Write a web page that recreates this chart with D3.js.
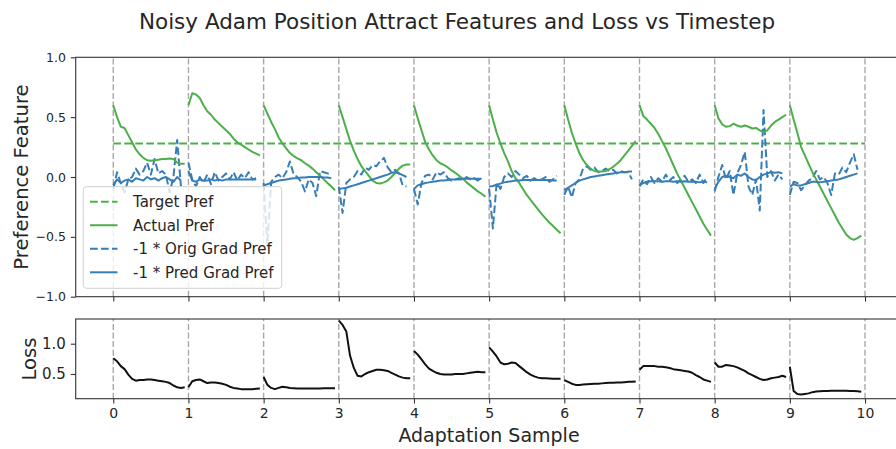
<!DOCTYPE html>
<html>
<head>
<meta charset="utf-8">
<script src="https://cdn.jsdelivr.net/npm/d3@7"></script>
<style>
  body { margin: 0; background: #fff; }
  text { font-family: "DejaVu Sans", sans-serif; fill: #262626; }
</style>
</head>
<body>
<svg id="chart" width="896" height="449"></svg>
<script>
// ---- data -------------------------------------------------------------
// Ten adaptation samples, each sampled at 20 sub-steps (x = sample + k/20).
const sampleStarts = [0, 1, 2, 3, 4, 5, 6, 7, 8, 9];
const stepsPerSample = 20;
const targetPref = 0.28;
const xTickValues = [0, 1, 2, 3, 4, 5, 6, 7, 8, 9, 10];
const prefTickValues = [-1.0, -0.5, 0.0, 0.5, 1.0];
const lossTickValues = [0.5, 1.0];

// Actual preference feature per sample (20 steps each)
const actualPref = [
  [0.60, 0.50, 0.42, 0.41, 0.35, 0.29, 0.23, 0.19, 0.16, 0.14, 0.135, 0.14, 0.145, 0.15, 0.15, 0.155, 0.15, 0.12, 0.11, 0.11],
  [0.60, 0.70, 0.69, 0.66, 0.60, 0.55, 0.52, 0.48, 0.45, 0.42, 0.39, 0.36, 0.32, 0.29, 0.27, 0.25, 0.23, 0.21, 0.195, 0.18],
  [0.60, 0.53, 0.46, 0.40, 0.33, 0.28, 0.24, 0.20, 0.175, 0.155, 0.14, 0.115, 0.095, 0.07, 0.04, 0.01, -0.02, -0.05, -0.08, -0.11],
  [0.60, 0.50, 0.40, 0.30, 0.22, 0.15, 0.09, 0.05, 0.01, -0.03, -0.05, -0.055, -0.045, -0.03, 0.0, 0.035, 0.07, 0.095, 0.105, 0.105],
  [0.60, 0.49, 0.39, 0.29, 0.23, 0.18, 0.14, 0.115, 0.10, 0.08, 0.055, 0.035, 0.01, -0.015, -0.045, -0.07, -0.095, -0.12, -0.14, -0.165],
  [0.60, 0.48, 0.37, 0.28, 0.20, 0.13, 0.05, -0.01, -0.05, -0.10, -0.15, -0.19, -0.23, -0.27, -0.31, -0.345, -0.38, -0.41, -0.44, -0.47],
  [0.60, 0.48, 0.37, 0.28, 0.20, 0.14, 0.10, 0.07, 0.05, 0.045, 0.045, 0.05, 0.065, 0.085, 0.11, 0.14, 0.18, 0.22, 0.26, 0.30],
  [0.60, 0.51, 0.48, 0.445, 0.41, 0.36, 0.30, 0.24, 0.17, 0.10, 0.03, -0.03, -0.09, -0.15, -0.21, -0.27, -0.33, -0.39, -0.44, -0.49],
  [0.60, 0.49, 0.44, 0.42, 0.425, 0.445, 0.43, 0.42, 0.43, 0.42, 0.405, 0.41, 0.39, 0.375, 0.39, 0.43, 0.46, 0.48, 0.50, 0.52],
  [0.60, 0.48, 0.37, 0.25, 0.18, 0.11, 0.04, -0.02, -0.08, -0.14, -0.20, -0.26, -0.32, -0.38, -0.43, -0.48, -0.51, -0.525, -0.51, -0.49]
];

// -1 * original gradient of the preference feature (19 steps each)
const origGradPref = [
  [-0.10, 0.04, -0.05, -0.13, -0.02, 0.0, 0.07, 0.02, 0.05, 0.12, 0.02, 0.15, 0.03, 0.05, 0.02, -0.13, 0.0, 0.31, -0.08],
  [0.12, -0.02, -0.08, 0.0, -0.05, 0.02, -0.06, 0.04, -0.03, 0.0, 0.03, -0.02, 0.04, -0.03, 0.02, -0.01, 0.04, -0.02, -0.01],
  [-0.05, -0.57, -0.04, 0.0, 0.02, -0.01, 0.04, 0.13, 0.02, 0.0, -0.04, -0.12, -0.02, -0.05, -0.16, 0.05, 0.04, 0.03, 0.02],
  [-0.08, -0.30, -0.05, -0.02, 0.0, 0.05, 0.02, 0.08, 0.06, 0.10, 0.09, 0.13, 0.16, 0.08, 0.04, 0.06, 0.03, -0.07, -0.08],
  [-0.10, -0.23, -0.05, 0.01, 0.02, -0.02, 0.04, 0.02, 0.04, -0.01, -0.03, -0.02, -0.01, -0.03, 0.0, -0.02, -0.01, -0.03, 0.0],
  [-0.10, -0.43, -0.05, -0.10, 0.0, 0.03, 0.0, 0.05, 0.02, -0.01, 0.01, -0.03, -0.01, -0.03, -0.02, 0.0, -0.04, -0.02, 0.01],
  [-0.15, -0.08, -0.17, -0.05, -0.02, 0.07, 0.09, 0.06, 0.08, 0.04, 0.05, 0.07, 0.05, 0.06, 0.03, 0.05, 0.04, 0.04, -0.02],
  [-0.08, -0.02, -0.06, 0.0, -0.05, -0.01, -0.04, 0.02, -0.03, 0.0, -0.05, -0.02, 0.01, -0.04, -0.02, -0.05, 0.02, -0.05, 0.0],
  [-0.12, 0.0, 0.10, -0.02, 0.05, -0.15, 0.03, 0.10, 0.21, -0.08, -0.15, -0.02, -0.28, 0.56, 0.0, 0.05, -0.03, 0.02, -0.02],
  [-0.15, -0.04, -0.05, -0.11, -0.07, -0.03, -0.01, 0.05, -0.02, 0.0, -0.05, -0.15, 0.03, 0.02, 0.08, 0.04, 0.12, 0.19, 0.06]
];

// -1 * predicted gradient of the preference feature (19 steps each)
const predGradPref = [
  [-0.07, -0.02, -0.05, -0.03, -0.02, -0.04, -0.01, -0.02, -0.03, 0.0, -0.02, -0.01, -0.03, -0.01, 0.0, -0.02, -0.04, 0.0, -0.03],
  [0.05, -0.03, -0.04, -0.02, -0.03, -0.03, -0.02, -0.03, -0.02, -0.03, -0.02, -0.02, -0.02, -0.02, -0.02, -0.02, -0.02, -0.02, -0.02],
  [-0.07, -0.06, -0.05, -0.04, -0.03, -0.025, -0.02, -0.015, -0.01, -0.01, -0.005, -0.005, 0.0, 0.0, 0.0, 0.0, -0.005, -0.005, -0.01],
  [-0.10, -0.095, -0.09, -0.08, -0.07, -0.06, -0.05, -0.04, -0.03, -0.02, -0.01, 0.0, 0.01, 0.02, 0.035, 0.04, 0.03, 0.015, 0.0],
  [-0.10, -0.07, -0.06, -0.05, -0.045, -0.04, -0.035, -0.03, -0.03, -0.025, -0.02, -0.02, -0.02, -0.015, -0.015, -0.015, -0.015, -0.015, -0.015],
  [-0.08, -0.075, -0.065, -0.055, -0.045, -0.04, -0.035, -0.03, -0.03, -0.025, -0.025, -0.025, -0.025, -0.025, -0.025, -0.025, -0.025, -0.03, -0.03],
  [-0.11, -0.09, -0.07, -0.05, -0.03, -0.02, -0.01, 0.0, 0.005, 0.01, 0.015, 0.02, 0.025, 0.03, 0.035, 0.04, 0.04, 0.045, 0.045],
  [-0.07, -0.05, -0.04, -0.035, -0.035, -0.035, -0.04, -0.035, -0.035, -0.04, -0.035, -0.04, -0.035, -0.04, -0.04, -0.04, -0.045, -0.04, -0.045],
  [-0.10, -0.04, 0.0, 0.01, 0.0, -0.01, 0.02, 0.01, 0.03, 0.0, -0.02, -0.025, 0.0, 0.02, 0.03, 0.04, 0.035, 0.04, 0.03],
  [-0.08, -0.06, -0.07, -0.07, -0.06, -0.05, -0.04, -0.04, -0.045, -0.04, -0.035, -0.03, -0.025, -0.02, -0.01, 0.0, 0.01, 0.02, 0.03]
];

// Loss per sample (20 steps each)
const lossValues = [
  [0.76, 0.71, 0.63, 0.58, 0.49, 0.42, 0.39, 0.40, 0.40, 0.41, 0.41, 0.40, 0.39, 0.38, 0.37, 0.35, 0.31, 0.28, 0.27, 0.28],
  [0.28, 0.38, 0.40, 0.41, 0.38, 0.35, 0.36, 0.36, 0.35, 0.34, 0.32, 0.29, 0.27, 0.26, 0.25, 0.25, 0.25, 0.25, 0.255, 0.26],
  [0.45, 0.32, 0.27, 0.25, 0.27, 0.29, 0.28, 0.27, 0.265, 0.26, 0.26, 0.26, 0.26, 0.26, 0.26, 0.262, 0.264, 0.265, 0.265, 0.265],
  [1.38, 1.31, 1.20, 0.80, 0.60, 0.47, 0.46, 0.50, 0.53, 0.55, 0.57, 0.57, 0.56, 0.55, 0.52, 0.49, 0.46, 0.44, 0.43, 0.43],
  [0.88, 0.82, 0.74, 0.66, 0.59, 0.55, 0.52, 0.50, 0.49, 0.49, 0.49, 0.50, 0.50, 0.50, 0.51, 0.52, 0.53, 0.535, 0.53, 0.53],
  [0.94, 0.87, 0.79, 0.69, 0.66, 0.67, 0.69, 0.68, 0.63, 0.58, 0.53, 0.49, 0.46, 0.44, 0.43, 0.43, 0.425, 0.42, 0.42, 0.42],
  [0.40, 0.37, 0.34, 0.32, 0.32, 0.325, 0.33, 0.335, 0.34, 0.34, 0.345, 0.35, 0.355, 0.355, 0.36, 0.36, 0.365, 0.37, 0.37, 0.375],
  [0.57, 0.63, 0.63, 0.63, 0.63, 0.62, 0.62, 0.61, 0.60, 0.58, 0.57, 0.56, 0.55, 0.54, 0.52, 0.48, 0.45, 0.41, 0.39, 0.37],
  [0.69, 0.62, 0.62, 0.65, 0.64, 0.63, 0.61, 0.58, 0.55, 0.51, 0.48, 0.45, 0.42, 0.40, 0.41, 0.43, 0.44, 0.45, 0.47, 0.45],
  [0.62, 0.22, 0.17, 0.16, 0.17, 0.18, 0.20, 0.21, 0.215, 0.22, 0.22, 0.225, 0.225, 0.225, 0.225, 0.225, 0.22, 0.22, 0.215, 0.205]
];

const legendLabels = ["Target Pref", "Actual Pref", "-1 * Orig Grad Pref", "-1 * Pred Grad Pref"];

// ---- styling ----------------------------------------------------------
const GREEN = "#4daf4a";
const BLUE = "#377eb8";
const DASH = "7.7,3.3";

// ---- layout -----------------------------------------------------------
const svg = d3.select("#chart");
svg.append("rect").attr("width", 896).attr("height", 449).attr("fill", "#fff");

const x = d3.scaleLinear().domain([-0.5, 10.5]).range([75.7, 902.6]);
const yTop = d3.scaleLinear().domain([-1, 1]).range([296.7, 57.3]);
const yBot = d3.scaleLinear().domain([0.092, 1.408]).range([398.7, 319]);

const stepX = (s, k) => s + k / stepsPerSample;

function addClip(id, y0, y1) {
  svg.append("clipPath").attr("id", id).append("rect")
    .attr("x", x.range()[0]).attr("y", y0)
    .attr("width", x.range()[1] - x.range()[0]).attr("height", y1 - y0);
}
addClip("clipTop", 57.3, 296.7);
addClip("clipBot", 319, 398.7);

const gTop = svg.append("g").attr("clip-path", "url(#clipTop)");
const gBot = svg.append("g").attr("clip-path", "url(#clipBot)");

// vertical separators at each sample boundary
[[gTop, yTop], [gBot, yBot]].forEach(([g, y]) => {
  g.selectAll("line.vsep").data(xTickValues).join("line")
    .attr("class", "vsep")
    .attr("x1", d => x(d)).attr("x2", d => x(d))
    .attr("y1", y.range()[0]).attr("y2", y.range()[1])
    .attr("stroke", "#a8a8a8").attr("stroke-width", 1.4)
    .attr("stroke-dasharray", "6,2.6");
});

// target preference
gTop.append("line")
  .attr("x1", x(0)).attr("x2", x(10))
  .attr("y1", yTop(targetPref)).attr("y2", yTop(targetPref))
  .attr("stroke", GREEN).attr("stroke-width", 2).attr("stroke-dasharray", DASH);

const lineTop = d3.line().x(d => x(d[0])).y(d => yTop(d[1]));
const lineBot = d3.line().x(d => x(d[0])).y(d => yBot(d[1]));
const toPts = (s, arr) => arr.map((v, k) => [stepX(s, k), v]);

sampleStarts.forEach((s, i) => {
  gTop.append("path").attr("d", lineTop(toPts(s, origGradPref[i])))
    .attr("fill", "none").attr("stroke", BLUE).attr("stroke-width", 2)
    .attr("stroke-dasharray", DASH).attr("stroke-linejoin", "round");
  gTop.append("path").attr("d", lineTop(toPts(s, actualPref[i])))
    .attr("fill", "none").attr("stroke", GREEN).attr("stroke-width", 2)
    .attr("stroke-linejoin", "round");
  gTop.append("path").attr("d", lineTop(toPts(s, predGradPref[i])))
    .attr("fill", "none").attr("stroke", BLUE).attr("stroke-width", 2)
    .attr("stroke-linejoin", "round");
  gBot.append("path").attr("d", lineBot(toPts(s, lossValues[i])))
    .attr("fill", "none").attr("stroke", "#111").attr("stroke-width", 2)
    .attr("stroke-linejoin", "round");
});

// ---- axes -------------------------------------------------------------
function styleAxis(g, size) {
  g.select(".domain").remove();
  g.selectAll(".tick line").attr("stroke", "#333").attr("stroke-width", 1.1);
  g.selectAll(".tick text").attr("fill", "#262626")
    .style("font-family", '"DejaVu Sans", sans-serif').style("font-size", size + "px");
}

svg.append("g").attr("transform", `translate(${x.range()[0]},0)`)
  .call(d3.axisLeft(yTop).tickValues(prefTickValues).tickFormat(d3.format(".1f"))
    .tickSize(4.9).tickPadding(4.9))
  .call(g => styleAxis(g, 12.5));

svg.append("g").attr("transform", `translate(0,${yTop.range()[0]})`)
  .call(d3.axisBottom(x).tickValues(xTickValues).tickFormat("").tickSize(4.9))
  .call(g => styleAxis(g, 12));

svg.append("g").attr("transform", `translate(${x.range()[0]},0)`)
  .call(d3.axisLeft(yBot).tickValues(lossTickValues).tickFormat(d3.format(".1f"))
    .tickSize(4.9).tickPadding(4.9))
  .call(g => styleAxis(g, 15));

svg.append("g").attr("transform", `translate(0,${yBot.range()[0]})`)
  .call(d3.axisBottom(x).tickValues(xTickValues).tickFormat(d3.format("d"))
    .tickSize(4.9).tickPadding(4.9))
  .call(g => styleAxis(g, 14));

// frames
[yTop, yBot].forEach(y => {
  svg.append("rect")
    .attr("x", x.range()[0]).attr("y", y.range()[1])
    .attr("width", x.range()[1] - x.range()[0])
    .attr("height", y.range()[0] - y.range()[1])
    .attr("fill", "none").attr("stroke", "#333").attr("stroke-width", 1.1);
});

// ---- legend -----------------------------------------------------------
const legend = svg.append("g");
legend.append("rect")
  .attr("x", 83.3).attr("y", 186.7).attr("width", 198.4).attr("height", 101.6)
  .attr("rx", 3).attr("fill", "#fff").attr("fill-opacity", 0.8)
  .attr("stroke", "#d0d0d0").attr("stroke-width", 1);

const legendStyles = [
  { color: GREEN, dash: DASH },
  { color: GREEN, dash: null },
  { color: BLUE, dash: DASH },
  { color: BLUE, dash: null }
];
const rowY = d3.scaleLinear().domain([0, 3]).range([201.7, 272.3]);
legendLabels.forEach((label, i) => {
  const yy = rowY(i);
  legend.append("line")
    .attr("x1", 90).attr("x2", 117.5).attr("y1", yy).attr("y2", yy)
    .attr("stroke", legendStyles[i].color).attr("stroke-width", 2)
    .attr("stroke-dasharray", legendStyles[i].dash);
  legend.append("text").attr("x", 133).attr("y", yy + 5.3)
    .style("font-size", "15px").text(label);
});

// ---- titles -----------------------------------------------------------
svg.append("text").attr("x", 457).attr("y", 29).attr("text-anchor", "middle")
  .style("font-size", "21.5px").text("Noisy Adam Position Attract Features and Loss vs Timestep");

svg.append("text").attr("transform", "translate(28,177) rotate(-90)")
  .attr("text-anchor", "middle").style("font-size", "19.6px").text("Preference Feature");

svg.append("text").attr("transform", "translate(35.5,359) rotate(-90)")
  .attr("text-anchor", "middle").style("font-size", "19.6px").text("Loss");

svg.append("text").attr("x", 489).attr("y", 442).attr("text-anchor", "middle")
  .style("font-size", "19px").text("Adaptation Sample");
</script>
</body>
</html>
